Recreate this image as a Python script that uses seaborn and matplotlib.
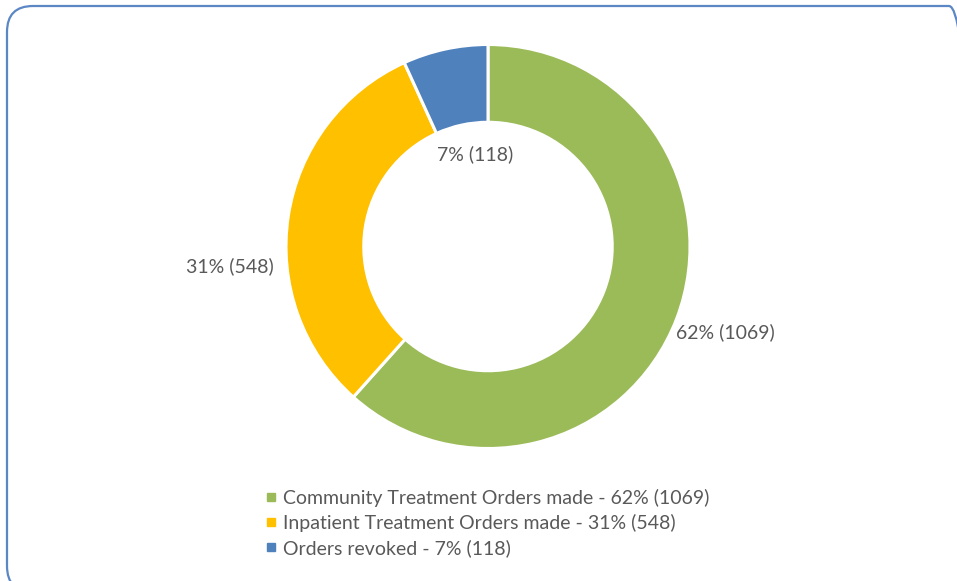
import numpy as np
import matplotlib.pyplot as plt
import seaborn as sns
from matplotlib.patches import FancyBboxPatch
from matplotlib.lines import Line2D
from matplotlib.transforms import IdentityTransform

# dados
categorias = ['Community Treatment Orders made', 'Inpatient Treatment Orders made', 'Orders revoked']
valores = [1069, 548, 118]
percentuais = [62, 31, 7]
cores = ['#9BBB59', '#FFC000', '#4F81BD']

sns.set_theme(style='white')
plt.rcParams['font.family'] = ['Lato', 'DejaVu Sans']
cinza = '#595959'

fig = plt.figure(figsize=(9.57, 5.81), dpi=100)
W, H = 957, 581
cx, cy, R = 488, 246.5, 202  # centro e raio em pixels
L = 1.2
lado = 2 * L * R
ax = fig.add_axes([(cx - lado / 2) / W, (H - cy - lado / 2) / H, lado / W, lado / H])

wedges, _ = ax.pie(valores, colors=cores, startangle=90, counterclock=False,
                   radius=1, wedgeprops=dict(width=0.385, edgecolor='white', linewidth=2.2))
ax.set_xlim(-L, L)
ax.set_ylim(-L, L)
ax.set_aspect('equal')
ax.axis('off')

# rotulos de dados (posicao "melhor ajuste" do Excel)
raios = [1.25, 1.28, 0.46]
ajustes = [1, 13, -4]
for w, p, v, r, a in zip(wedges, percentuais, valores, raios, ajustes):
    ang = np.deg2rad((w.theta1 + w.theta2) / 2 + a)
    ax.text(r * np.cos(ang), r * np.sin(ang), f'{p}% ({v})', ha='center', va='center',
            fontsize=14, color=cinza, clip_on=False)

# legenda
handles = [Line2D([], [], marker='s', linestyle='', markersize=6, color=c) for c in cores]
rotulos = [f'{c} - {p}% ({v})' for c, p, v in zip(categorias, percentuais, valores)]
fig.legend(handles, rotulos, loc='upper left', bbox_to_anchor=(265 / W, 1 - 488.5 / H),
           frameon=False, fontsize=14, labelcolor=cinza, handlelength=0.6, handletextpad=0.35,
           labelspacing=0.37, borderpad=0, borderaxespad=0)

# moldura arredondada
fig.patches.append(FancyBboxPatch((7, H - 592), 968, 586, boxstyle='round,pad=0,rounding_size=26',
                                  transform=IdentityTransform(), fill=False,
                                  edgecolor='#5B87C4', linewidth=1.6, figure=fig))

fig.savefig('out.png', dpi=100)
